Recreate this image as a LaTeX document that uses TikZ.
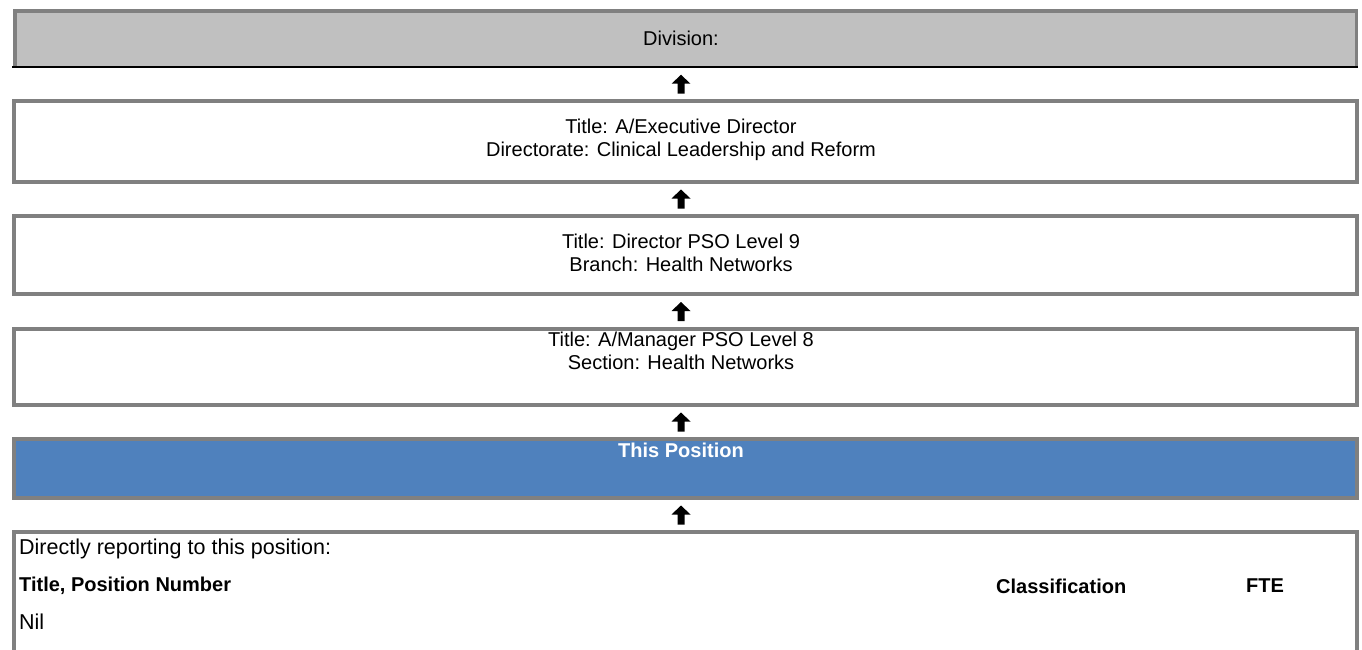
\documentclass[tikz,border=0pt]{standalone}
\usepackage{fontspec}
\setmainfont{Liberation Sans}
\usetikzlibrary{calc}
\definecolor{bordergray}{HTML}{808080}
\definecolor{divfill}{HTML}{C0C0C0}
\definecolor{posblue}{HTML}{4F81BD}
\tikzset{
  box/.style={draw=bordergray, line width=4pt, fill=white, minimum width=1343pt, inner sep=0pt, outer sep=0pt},
  txt/.style={font=\fontsize{20}{22.5}\selectfont, align=center, inner sep=0pt},
  btxt/.style={font=\fontsize{20}{22.5}\selectfont\bfseries, inner sep=0pt, anchor=west},
  rtxt/.style={font=\fontsize{21.5}{24}\selectfont, inner sep=0pt, anchor=west},
  uparrow/.pic={\fill (0,-9.5) -- (9.5,-0.5) -- (3.5,-0.5) -- (3.5,9.5) -- (-3.5,9.5) -- (-3.5,-0.5) -- (-9.5,-0.5) -- cycle;}
}
\begin{document}
\begin{tikzpicture}[x=1pt, y=-1pt]
\useasboundingbox (0,0) rectangle (1362,650);
% Division box
\node[fill=divfill, inner sep=0pt, outer sep=0pt, minimum width=1345pt, minimum height=58pt] (div) at (685.5,38.5) {};
\draw[bordergray, line width=3.5pt] (div.south west) ++(1.75,0) |- ($(div.north east)+(0,1.75)$) coordinate (dne);
\draw[bordergray, line width=3.5pt] (div.north east) ++(-1.75,0) -- ($(div.south east)+(-1.75,0)$);
\draw[black, line width=2pt] ($(div.south west)+(-1,0)$) -- ($(div.south east)+(0,0)$);
\node[txt] (divt) at (681,38) {Division:};
% Boxes
\node[box, minimum height=81pt] (b2) at (685.5,141.5) {};
\node[txt] (b2t) at (681,140) {Title: A/Executive Director\\Directorate: Clinical Leadership and Reform};
\node[box, minimum height=78pt] (b3) at (685.5,255) {};
\node[txt] (b3t) at (681,253) {Title: Director PSO Level 9\\Branch: Health Networks};
\node[box, minimum height=76pt] (b4) at (685.5,367) {};
\node[txt] (b4t) at (681,351) {Title: A/Manager PSO Level 8\\Section: Health Networks};
\node[box, fill=posblue, minimum height=59pt] (pos) at (685.5,468.5) {};
\node[txt, text=white, font=\fontsize{20}{22.5}\selectfont\bfseries] (post) at (681,450) {This Position};
% Bottom box (open at the bottom)
\coordinate (bl) at (14,660);
\coordinate (br) at (1357,660);
\draw[bordergray, line width=4pt] (bl) |- (685.5,532) coordinate (btop) -| (br);
\node[rtxt] (d1) at (19,549) {Directly reporting to this position:};
\node[btxt] (d2) at (19,586) {Title, Position Number};
\node[btxt] (d3) at (996,586) {Classification};
\node[btxt] (d4) at (1246,586) {FTE};
\node[rtxt] (d5) at (19,622) {Nil};
% Arrows
\coordinate (a1) at ($(div.south)!0.5!(b2.north)$);
\coordinate (a2) at ($(b2.south)!0.5!(b3.north)$);
\coordinate (a3) at ($(b3.south)!0.5!(b4.north)$);
\coordinate (a4) at ($(b4.south)!0.5!(pos.north)$);
\coordinate (a5) at ($(pos.south)!0.5!(btop)$);
\foreach \a in {a1,a2,a3,a4,a5} { \pic at ($(\a)+(-4.5,0)$) {uparrow}; }
\end{tikzpicture}
\end{document}
